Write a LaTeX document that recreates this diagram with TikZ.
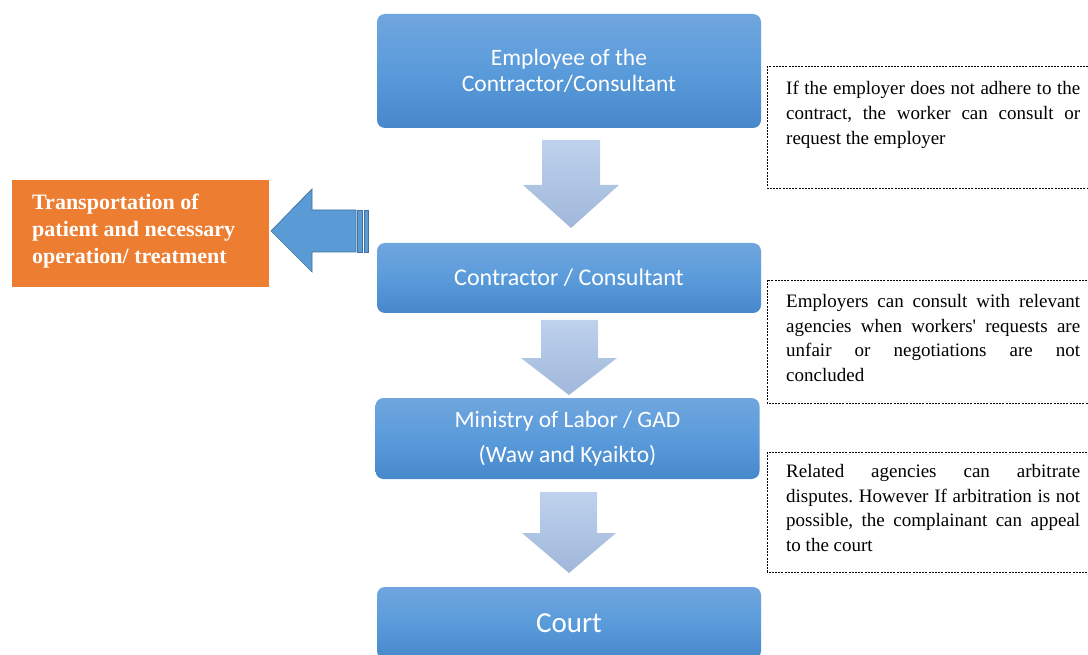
\documentclass[tikz,border=0pt]{standalone}
\usepackage{fontspec}
\setmainfont{Liberation Serif}
\newfontfamily\calib{Carlito}
\newfontfamily\notefont{Liberation Serif}
\frenchspacing
\definecolor{bluetop}{HTML}{70A6DE}
\definecolor{bluemid}{HTML}{5A9BDB}
\definecolor{bluebot}{HTML}{4788CB}
\definecolor{arrtop}{HTML}{BED2ED}
\definecolor{arrbot}{HTML}{A0B7DA}
\definecolor{orangefill}{HTML}{ED7D31}
\definecolor{larrow}{HTML}{5B9BD5}
\definecolor{larrowedge}{HTML}{41719C}
\begin{document}
\begin{tikzpicture}[x=1pt,y=-1pt,
  bluebox/.style={rounded corners=8pt, top color=bluetop, bottom color=bluebot, middle color=bluemid,
    text=white, font=\calib\fontsize{23.5}{26}\selectfont, align=center, inner sep=0pt, minimum width=384pt},
  downarrow/.style={top color=arrtop, bottom color=arrbot, draw=none},
  notebox/.style={draw=black, line width=0.6pt, dash pattern=on 2pt off 1.2pt},
  notetext/.style={anchor=north west, inner sep=0pt, text width=294pt, align=justify,
    font=\notefont\fontsize{19}{24.8}\selectfont}
]
\useasboundingbox (0,0) rectangle (1088,655);

% blue boxes
\node[bluebox, minimum height=114pt] (emp) at (569,71) {Employee of the\\Contractor/Consultant};
\node[bluebox, minimum height=70pt, font=\calib\fontsize{24}{26}\selectfont] (con) at (569,278) {Contractor / Consultant};
\node[bluebox, minimum height=81pt, font=\calib\fontsize{23.5}{35}\selectfont] (min) at (567.5,438.5) {Ministry of Labor / GAD\\(Waw and Kyaikto)};
\node[bluebox, minimum height=72pt, font=\calib\fontsize{29}{30}\selectfont] (court) at (569,623) {Court};

% down arrows
\path[downarrow] (542,140) -- (600,140) -- (600,185) -- (619,185) -- (571,228) -- (523,185) -- (542,185) -- cycle;
\path[downarrow] (541,320) -- (598,320) -- (598,358) -- (617,358) -- (569,395) -- (521,358) -- (541,358) -- cycle;
\path[downarrow] (540,492) -- (597,492) -- (597,533) -- (616,533) -- (569,573) -- (522,533) -- (540,533) -- cycle;

% orange box
\node[fill=orangefill, minimum width=257pt, minimum height=107pt, inner sep=0pt] (orange) at (140.5,233.5) {};
\node[anchor=north west, inner sep=0pt, text=white, align=left, font=\bfseries\fontsize{22}{27}\selectfont] (orangetxt) at (32,194) {Transportation of\\patient and necessary\\operation/ treatment};

% left arrow
\path[fill=larrow, draw=larrowedge, line width=0.7pt] (271,231) -- (312,189) -- (312,210) -- (356,210) -- (356,252) -- (312,252) -- (312,272) -- cycle;
\path[fill=larrow, draw=larrowedge, line width=0.7pt] (357.5,210) rectangle (362,252);
\path[fill=larrow, draw=larrowedge, line width=0.7pt] (364,210) rectangle (368,252);

% note boxes
\draw[notebox] (767,66) rectangle (1100,188);
\node[notetext] (noteA) at (786,81) {If the employer does not adhere to the\linebreak contract, the worker can consult or\linebreak request the employer};
\draw[notebox] (767,280) rectangle (1100,403);
\node[notetext] (noteB) at (786,294) {Employers can consult with relevant\linebreak agencies when workers' requests are\linebreak unfair or negotiations are not\linebreak concluded};
\draw[notebox] (767,452) rectangle (1100,572);
\node[notetext] (noteC) at (786,464) {Related agencies can arbitrate\linebreak disputes. However If arbitration is not\linebreak possible, the complainant can appeal\linebreak to the court};
\end{tikzpicture}
\end{document}
